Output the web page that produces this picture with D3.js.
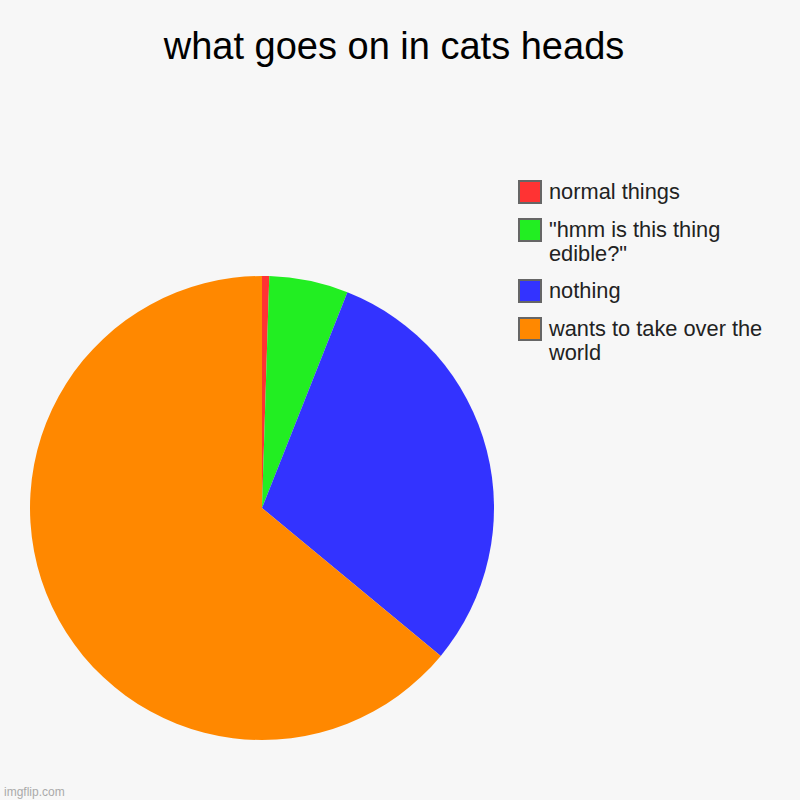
<!DOCTYPE html>
<html>
<head>
<meta charset="utf-8">
<script src="https://cdn.jsdelivr.net/npm/d3@7"></script>
<style>
html,body{margin:0;padding:0;background:#f7f7f7;}
svg{display:block;}
text{font-family:"Liberation Sans",Arial,sans-serif;}
</style>
</head>
<body>
<svg id="chart" width="800" height="800"></svg>
<script>
const title = "what goes on in cats heads";
const categories = ["normal things", "\"hmm is this thing edible?\"", "nothing", "wants to take over the world"];
const legendLines = [["normal things"], ["\"hmm is this thing", "edible?\""], ["nothing"], ["wants to take over the", "world"]];
const values = [0.5, 5.5, 30, 64];
const colors = ["#ff3333", "#22ee22", "#3333ff", "#ff8800"];

const svg = d3.select("#chart");
svg.append("rect").attr("width", 800).attr("height", 800).attr("fill", "#f7f7f7");

svg.append("text")
  .attr("x", 394).attr("y", 59)
  .attr("text-anchor", "middle")
  .attr("font-size", 38)
  .attr("fill", "#000")
  .text(title);

const cx = 262, cy = 508, r = 232;
const pie = d3.pie().sort(null).value(d => d)(values);
const arc = d3.arc().innerRadius(0).outerRadius(r);
const color = d3.scaleOrdinal().domain(categories).range(colors);

const g = svg.append("g").attr("transform", `translate(${cx},${cy})`);
g.selectAll("path").data(pie).enter().append("path")
  .attr("d", arc)
  .attr("fill", (d, i) => color(categories[i]));

const legendY = d3.scaleOrdinal().domain(categories).range([180, 218, 279, 317]);
const lg = svg.append("g");
categories.forEach((c, i) => {
  const y = legendY(c);
  lg.append("rect")
    .attr("x", 519).attr("y", y + 1)
    .attr("width", 22).attr("height", 22)
    .attr("fill", color(c))
    .attr("stroke", "#666").attr("stroke-width", 2);
  const t = lg.append("text")
    .attr("x", 549).attr("y", y + 19)
    .attr("font-size", 21.8)
    .attr("fill", "#222");
  legendLines[i].forEach((line, j) => {
    t.append("tspan").attr("x", 549).attr("dy", j === 0 ? 0 : 24).text(line);
  });
});

svg.append("text")
  .attr("x", 4).attr("y", 796)
  .attr("font-size", 12)
  .attr("fill", "#aaa")
  .text("imgflip.com");
</script>
</body>
</html>
